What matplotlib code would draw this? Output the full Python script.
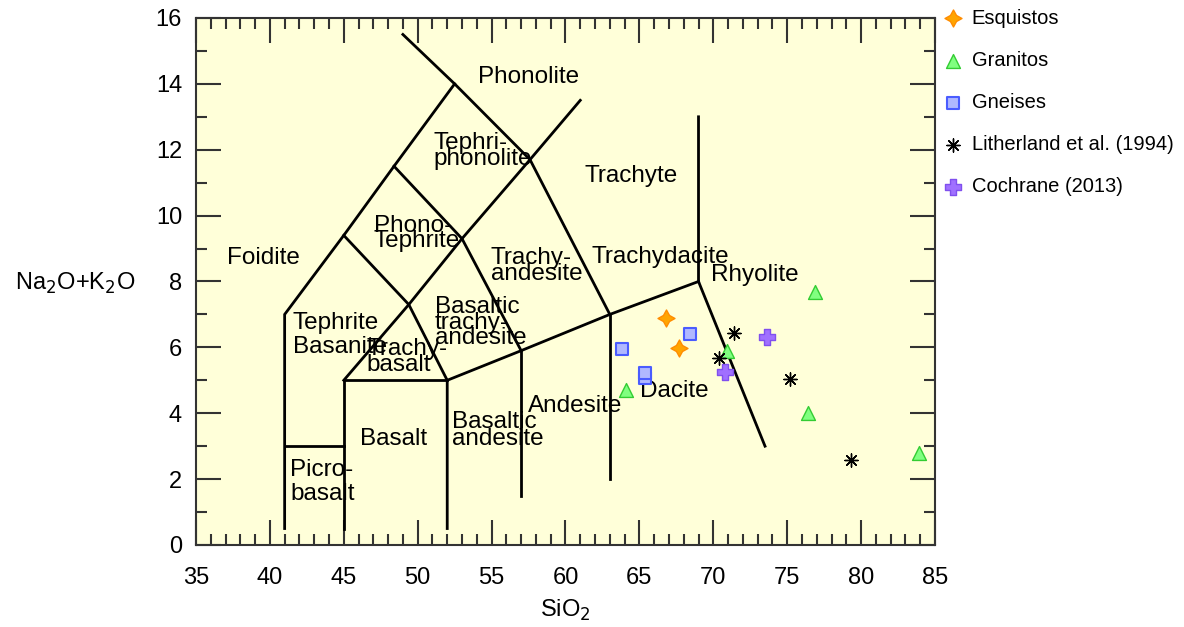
import matplotlib
matplotlib.use('Agg')
import matplotlib.pyplot as plt
from matplotlib.ticker import MultipleLocator

plt.rcParams['font.family'] = ['Liberation Sans', 'DejaVu Sans']

# TAS field boundaries (SiO2, Na2O+K2O)
boundaries = [
    [(41, 0.5), (41, 7), (45, 9.4), (48.4, 11.5), (52.5, 14), (49.0, 15.5)],
    [(41, 3), (45, 3)],
    [(45, 0.5), (45, 5), (52, 5)],
    [(52, 0.5), (52, 5), (57, 5.9), (63, 7), (69, 8)],
    [(57, 1.5), (57, 5.9)],
    [(63, 2), (63, 7)],
    [(69, 13), (69, 8), (73.5, 3)],
    [(45, 5), (49.4, 7.3), (53, 9.3), (57.6, 11.7), (61, 13.5)],
    [(45, 9.4), (49.4, 7.3), (52, 5)],
    [(48.4, 11.5), (53, 9.3), (57, 5.9)],
    [(52.5, 14), (57.6, 11.7), (63, 7)],
]

# field names, one entry per text line (x = left edge, y = baseline)
field_names = ["Phonolite", "Tephri-", "phonolite", "Trachyte", "Foidite", "Phono-", "Tephrite",
               "Trachy-", "andesite", "Trachydacite", "Rhyolite", "Tephrite", "Basanite",
               "Trachy-", "basalt", "Basaltic", "trachy-", "andesite", "Basalt",
               "Basaltic", "andesite", "Andesite", "Dacite", "Picro-", "basalt"]
field_x = [54.08, 51.04, 51.04, 61.32, 37.08, 47.04, 47.04,
           54.96, 54.96, 61.77, 69.84, 41.56, 41.56,
           46.55, 46.55, 51.17, 51.17, 51.17, 46.10,
           52.30, 52.30, 57.46, 65.04, 41.36, 41.36]
field_y = [14.02, 12.01, 11.55, 11.03, 8.53, 9.51, 9.06,
           8.53, 8.04, 8.55, 8.01, 6.55, 5.84,
           5.77, 5.29, 7.03, 6.57, 6.10, 3.04,
           3.54, 3.04, 4.05, 4.50, 2.09, 1.37]

# samples
esq_x = [66.8, 67.7]
esq_y = [6.89, 5.98]
gra_x = [76.9, 70.9, 64.1, 76.4, 83.9]
gra_y = [7.68, 5.89, 4.71, 4.0, 2.79]
gne_x = [63.8, 68.4, 65.4, 65.4]
gne_y = [5.95, 6.41, 5.07, 5.23]
lit_x = [71.4, 70.4, 75.2, 79.3]
lit_y = [6.44, 5.68, 5.04, 2.58]
coc_x = [73.6, 70.8]
coc_y = [6.31, 5.25]

fig = plt.figure(figsize=(11.84, 6.27), dpi=100)
ax = fig.add_axes([0.1655, 0.1308, 0.6242, 0.8405])
ax.set_facecolor('#ffffd9')

for seg in boundaries:
    xs = [p[0] for p in seg]
    ys = [p[1] for p in seg]
    ax.plot(xs, ys, color='black', lw=2, solid_joinstyle='miter', zorder=2)

for name, x, y in zip(field_names, field_x, field_y):
    ax.text(x, y, name, fontsize=17.5, ha='left', va='baseline', zorder=3)

ax.scatter(esq_x, esq_y, marker=(4, 1, 0), s=150, facecolor='#ffa500', edgecolor='#ff8c00',
           lw=1, label='Esquistos', zorder=4)
ax.scatter(gra_x, gra_y, marker='^', s=100, facecolor='#80ff80', edgecolor='#33cc33',
           lw=1, label='Granitos', zorder=4)
ax.scatter(gne_x, gne_y, marker='s', s=85, facecolor='#b0b8ff', edgecolor='#4a5cff',
           lw=1.5, label='Gneises', zorder=4)
ax.scatter(lit_x, lit_y, marker=(8, 2, 0), s=90, color='black', lw=1,
           label='Litherland et al. (1994)', zorder=4)
ax.scatter(coc_x, coc_y, marker='P', s=120, facecolor='#a070ff', edgecolor='#8050ee',
           lw=1, label='Cochrane (2013)', zorder=4)

ax.set_xlim(35, 85)
ax.set_ylim(0, 16)
ax.xaxis.set_major_locator(MultipleLocator(5))
ax.xaxis.set_minor_locator(MultipleLocator(1))
ax.yaxis.set_major_locator(MultipleLocator(2))
ax.yaxis.set_minor_locator(MultipleLocator(1))
ax.tick_params(which='both', direction='in', top=True, right=True, color='#333333',
               labelsize=17, width=1.5)
ax.tick_params(which='major', length=18)
ax.tick_params(axis='x', which='major', pad=16)
ax.tick_params(axis='y', which='major', pad=10)
ax.tick_params(which='minor', length=8)
for sp in ax.spines.values():
    sp.set_color('#333333')
    sp.set_linewidth(1.5)

ax.set_xlabel('SiO$_2$', fontsize=17, labelpad=6)
ax.set_ylabel('Na$_2$O+K$_2$O', fontsize=17, rotation=0, ha='center', va='center')
ax.yaxis.set_label_coords(-0.1637, 0.497)

leg = ax.legend(loc='upper left', bbox_to_anchor=(0.984, 1.052), frameon=False, fontsize=14.5,
                labelspacing=1.15, handletextpad=0.3, borderaxespad=0.5, scatterpoints=1,
                handlelength=1.2)

fig.savefig('out.png', dpi=100)
